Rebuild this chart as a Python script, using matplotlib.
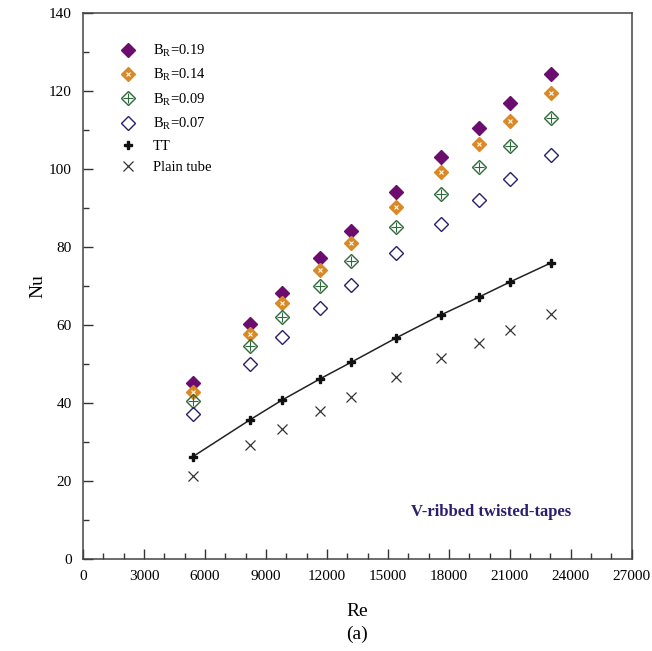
import numpy as np
import matplotlib
matplotlib.use('Agg')
import matplotlib.pyplot as plt
from matplotlib.ticker import MultipleLocator
from matplotlib.legend_handler import HandlerTuple

plt.rcParams['font.family'] = 'Liberation Serif'
plt.rcParams['mathtext.fontset'] = 'custom'
plt.rcParams['mathtext.rm'] = 'Liberation Serif'
plt.rcParams['mathtext.it'] = 'Liberation Serif:italic'

# Reynolds numbers of the test runs
re = [5410, 8210, 9770, 11660, 13210, 15410, 17620, 19460, 21000, 23020]

# Nusselt numbers, one list per insert
nu_br19 = [45.1, 60.2, 68.3, 77.1, 84.1, 94.1, 103.0, 110.5, 116.8, 124.4]
nu_br14 = [42.9, 57.7, 65.6, 74.1, 81.0, 90.3, 99.2, 106.4, 112.2, 119.5]
nu_br09 = [40.5, 54.6, 62.0, 70.1, 76.4, 85.2, 93.6, 100.5, 105.9, 112.9]
nu_br07 = [37.2, 50.1, 56.9, 64.3, 70.2, 78.4, 85.9, 92.1, 97.3, 103.6]
nu_tt = [26.3, 35.7, 40.7, 46.2, 50.5, 56.7, 62.6, 67.1, 71.0, 75.9]
nu_plain = [21.3, 29.2, 33.3, 38.0, 41.6, 46.8, 51.5, 55.5, 58.7, 62.9]

purple = '#6a0d6e'
orange = '#d98a26'
green = '#2e6a3a'
navy = '#2a1f6e'

fig = plt.figure(figsize=(6.52, 6.51), dpi=100)
ax = fig.add_axes([0.1273, 0.1409, 0.8417, 0.8397])

ms = 7
h19, = ax.plot(re, nu_br19, 'D', color=purple, ms=ms, mec=purple, ls='none')

h14a, = ax.plot(re, nu_br14, 'D', color=orange, ms=ms, mec=orange, ls='none')
h14b, = ax.plot(re, nu_br14, 'x', color='white', ms=3.5, mew=0.8, ls='none')

h09a, = ax.plot(re, nu_br09, 'D', mfc='none', mec=green, ms=ms, mew=1.0, ls='none')
h09b, = ax.plot(re, nu_br09, '+', color=green, ms=ms * 0.95, mew=0.8, ls='none')

h07, = ax.plot(re, nu_br07, 'D', mfc='none', mec=navy, ms=ms, mew=1.0, ls='none')

ax.plot(re, nu_tt, '-', color='#222222', lw=1.1)
htt, = ax.plot(re, nu_tt, 'P', color='#111111', ms=6, ls='none')

hpl, = ax.plot(re, nu_plain, 'x', color='#333333', ms=7, mew=0.9, ls='none')

ax.legend([h19, (h14a, h14b), (h09a, h09b), h07, htt, hpl],
          [r'B$_\mathrm{R}$=0.19', r'B$_\mathrm{R}$=0.14', r'B$_\mathrm{R}$=0.09',
           r'B$_\mathrm{R}$=0.07', 'TT', 'Plain tube'],
          handler_map={tuple: HandlerTuple(ndivide=1, pad=0)},
          loc='upper left', bbox_to_anchor=(0.045, 0.968), frameon=False,
          fontsize=10.5, handlelength=1.0, handletextpad=1.2, labelspacing=0.55)

ax.text(20100, 12, 'V-ribbed twisted-tapes', color=navy, fontsize=12,
        fontweight='bold', ha='center', va='center')

ax.set_xlim(0, 27000)
ax.set_ylim(0, 140)
ax.xaxis.set_major_locator(MultipleLocator(3000))
ax.xaxis.set_minor_locator(MultipleLocator(1000))
ax.yaxis.set_major_locator(MultipleLocator(20))
ax.yaxis.set_minor_locator(MultipleLocator(10))
ax.tick_params(which='both', direction='in', labelsize=11, color='#333333')
ax.tick_params(which='major', length=7, width=1)
ax.tick_params(which='minor', length=4, width=1)
ax.tick_params(axis='x', pad=8)
ax.tick_params(axis='y', pad=8)
for s in ax.spines.values():
    s.set_color('#444444')
    s.set_linewidth(1.1)

ax.set_xlabel('Re\n(a)', fontsize=14, labelpad=14, linespacing=1.45)
ax.set_ylabel('Nu', fontsize=14, labelpad=2)

fig.savefig('out.png', dpi=100)
